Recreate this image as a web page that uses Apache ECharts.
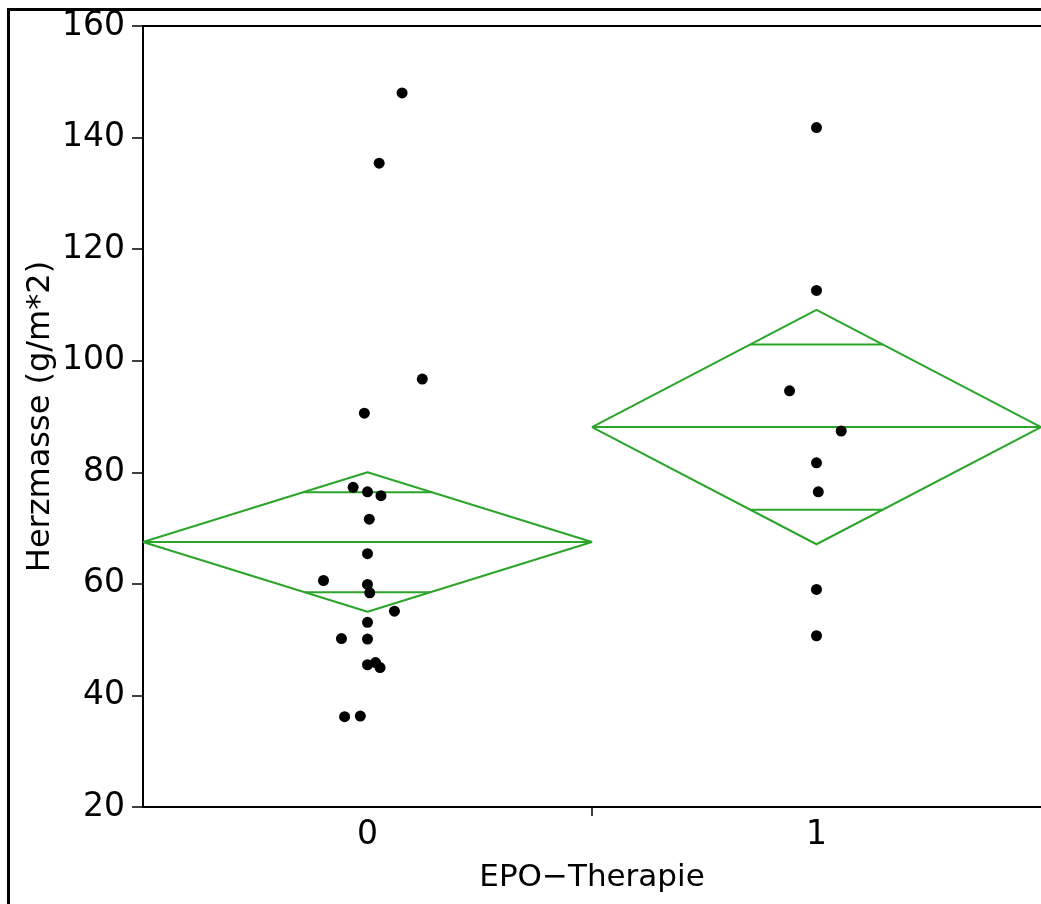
<!DOCTYPE html>
<html>
<head>
<meta charset="utf-8">
<script src="https://cdn.jsdelivr.net/npm/echarts@6/dist/echarts.min.js"></script>
<style>
  html, body { margin: 0; padding: 0; background: #fff; overflow: hidden; }
  #wrap { position: relative; width: 1041px; height: 904px; overflow: hidden; }
  #chart { width: 1041px; height: 904px; position: relative; }
  #frame { position: absolute; left: 7px; top: 8px; width: 1200px; height: 1200px;
           border-left: 3px solid #000; border-top: 3px solid #000; box-sizing: border-box; pointer-events: none; }
</style>
</head>
<body>
<div id="wrap">
<div id="chart"></div>
<div id="frame"></div>
</div>
<script>
// ---- data ----
const categories = ['0', '1'];
const yTicks = [20, 40, 60, 80, 100, 120, 140, 160];

// group 0 (EPO-Therapie = 0): values and horizontal jitter (category units)
const group0Values = [148.0, 135.4, 96.7, 90.6, 77.3, 76.5, 75.8, 71.6, 65.4, 60.6, 59.9, 58.4, 55.1, 53.1, 50.2, 50.1, 45.5, 45.9, 45.0, 36.2, 36.3];
const group0Jitter = [0.077, 0.026, 0.122, -0.007, -0.032, 0.0, 0.030, 0.004, 0.0, -0.098, 0.0, 0.005, 0.060, 0.0, -0.058, 0.0, 0.0, 0.018, 0.028, -0.051, -0.016];

// group 1 (EPO-Therapie = 1)
const group1Values = [141.8, 112.6, 94.6, 87.4, 81.7, 76.5, 59.0, 50.7];
const group1Jitter = [0.0, 0.0, -0.060, 0.055, 0.0, 0.004, 0.0, 0.0];

// means diamonds
const groupMeans = [67.5, 88.1];
const ciLower = [55.0, 67.1];
const ciUpper = [80.0, 109.1];
const overlapLower = [58.5, 73.3];
const overlapUpper = [76.4, 102.9];

// ---- build options ----
const GREEN = '#2aa52a';
const FONT = 'DejaVu Sans';

function pts(values, jitter, g) {
  return values.map((v, i) => [g + jitter[i], v]);
}

const series = [];
for (let g = 0; g < categories.length; g++) {
  const m = groupMeans[g], lo = ciLower[g], hi = ciUpper[g];
  const lineBase = {
    type: 'line', symbol: 'none', silent: true, z: 2,
    lineStyle: { color: GREEN, width: 2 }, animation: false
  };
  series.push(Object.assign({}, lineBase, {
    data: [[g - 0.5, m], [g, hi], [g + 0.5, m], [g, lo], [g - 0.5, m]]
  }));
  series.push(Object.assign({}, lineBase, {
    data: [[g - 0.5, m], [g + 0.5, m]]
  }));
  const hwU = 0.5 * (1 - (overlapUpper[g] - m) / (hi - m));
  const hwL = 0.5 * (1 - (m - overlapLower[g]) / (m - lo));
  series.push(Object.assign({}, lineBase, {
    data: [[g - hwU, overlapUpper[g]], [g + hwU, overlapUpper[g]]]
  }));
  series.push(Object.assign({}, lineBase, {
    data: [[g - hwL, overlapLower[g]], [g + hwL, overlapLower[g]]]
  }));
}
series.push({
  type: 'scatter', z: 5, symbol: 'circle', symbolSize: 11,
  itemStyle: { color: '#000', opacity: 1 }, data: pts(group0Values, group0Jitter, 0), animation: false
});
series.push({
  type: 'scatter', z: 5, symbol: 'circle', symbolSize: 11,
  itemStyle: { color: '#000', opacity: 1 }, data: pts(group1Values, group1Jitter, 1), animation: false
});

const chart = echarts.init(document.getElementById('chart'), null, { renderer: 'canvas' });
chart.setOption({
  backgroundColor: '#fff',
  animation: false,
  grid: { left: 143, right: -1, top: 26, bottom: 97 },
  xAxis: [{
    type: 'value', min: -0.5, max: 1.5, position: 'bottom',
    name: 'EPO\u2212Therapie', nameLocation: 'middle', nameGap: 55,
    nameTextStyle: { fontFamily: FONT, fontSize: 31, color: '#000' },
    axisLine: { show: true, onZero: false, lineStyle: { color: '#000', width: 2 } },
    axisTick: { show: true, customValues: [0.5], length: 9, lineStyle: { color: '#000', width: 1.5 } },
    axisLabel: {
      customValues: [0, 1],
      formatter: v => categories[Math.round(v)],
      fontFamily: FONT, fontSize: 33, color: '#000', margin: 12
    },
    splitLine: { show: false }
  }, {
    type: 'value', min: -0.5, max: 1.5, position: 'top',
    axisLine: { show: true, onZero: false, lineStyle: { color: '#000', width: 2 } },
    axisTick: { show: false }, axisLabel: { show: false }, splitLine: { show: false }
  }],
  yAxis: {
    type: 'value', min: yTicks[0], max: yTicks[yTicks.length - 1], interval: 20,
    name: 'Herzmasse (g/m*2)', nameLocation: 'middle', nameGap: 86, nameMoveOverlap: false,
    nameTextStyle: { fontFamily: FONT, fontSize: 32, color: '#000' },
    axisLine: { show: true, onZero: false, lineStyle: { color: '#000', width: 2 } },
    axisTick: { show: true, length: 11, lineStyle: { color: '#000', width: 1.5 } },
    axisLabel: { fontFamily: FONT, fontSize: 33, color: '#000', margin: 18 },
    splitLine: { show: false }
  },
  series: series
});
</script>
</body>
</html>
